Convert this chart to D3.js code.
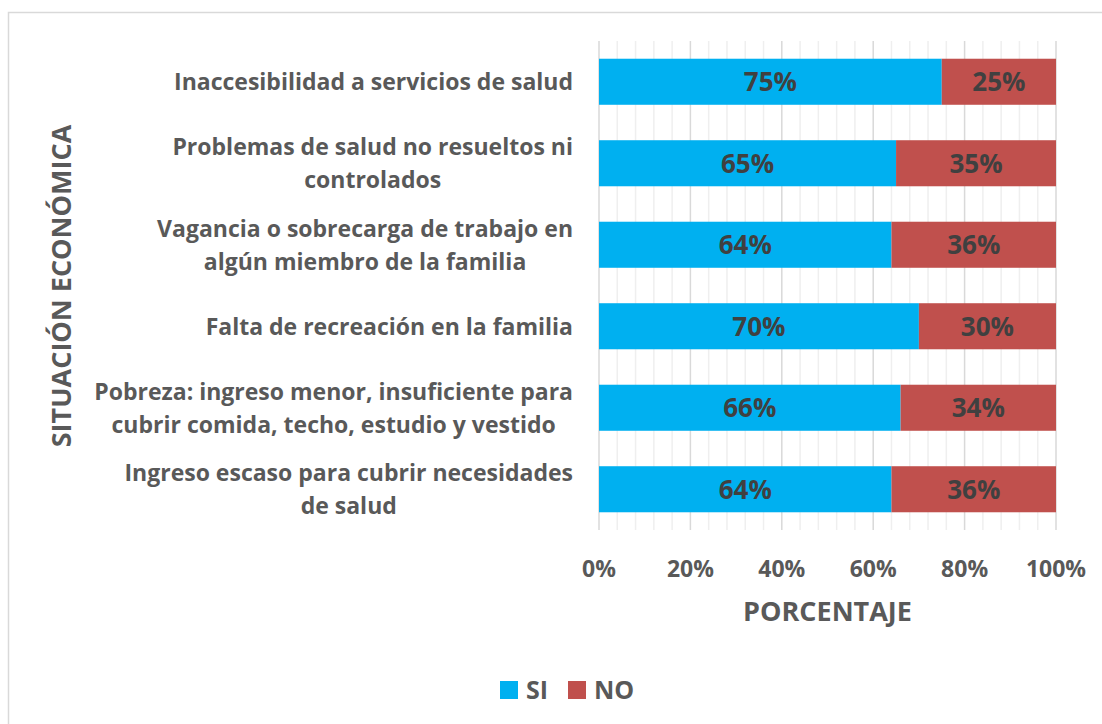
<!DOCTYPE html>
<html>
<head>
<meta charset="utf-8">
<script src="https://cdn.jsdelivr.net/npm/d3@7"></script>
<style>
  body { margin: 0; background: #fff; }
  text { font-family: "Open Sans", sans-serif; font-weight: bold; }
</style>
</head>
<body>
<svg id="svg1" width="1102" height="724"></svg>
<script>
// categories, top to bottom
var categories = [
    ["Inaccesibilidad a servicios de salud"],
    ["Problemas de salud no resueltos ni", "controlados"],
    ["Vagancia o sobrecarga de trabajo en", "algún miembro de la familia"],
    ["Falta de recreación en la familia"],
    ["Pobreza: ingreso menor, insuficiente para", "cubrir comida, techo, estudio y vestido"],
    ["Ingreso escaso para cubrir necesidades", "de salud"]
];
var siValues = [75, 65, 64, 70, 66, 64];
var noValues = [25, 35, 36, 30, 34, 36];
var seriesNames = ["SI", "NO"];
var seriesColors = ["#00B0F0", "#C0504D"];
var xTicks = [0, 20, 40, 60, 80, 100];

var svg = d3.select('#svg1');
var textColor = '#595959';

// chart border
svg.append('rect')
    .attr('x', 8.5).attr('y', 12.5)
    .attr('width', 1110).attr('height', 730)
    .attr('fill', 'none')
    .attr('stroke', '#d9d9d9')
    .attr('stroke-width', 1.5);

var plotLeft = 599, plotRight = 1056, plotTop = 41, plotBottom = 530;

var x = d3.scaleLinear().domain([0, 100]).range([plotLeft, plotRight]);
var y = d3.scaleBand().domain(d3.range(categories.length))
    .range([plotTop, plotBottom]).paddingInner(0.435).paddingOuter(0.2175);

// minor gridlines every 4%
svg.append('g').selectAll('line')
    .data(d3.range(0, 101, 4).filter(function (d) { return d % 20 != 0; }))
    .enter().append('line')
    .attr('x1', function (d) { return x(d); })
    .attr('x2', function (d) { return x(d); })
    .attr('y1', plotTop).attr('y2', plotBottom)
    .attr('stroke', '#efefef').attr('stroke-width', 1.5);

// major gridlines
svg.append('g').selectAll('line')
    .data(xTicks)
    .enter().append('line')
    .attr('x1', function (d) { return x(d); })
    .attr('x2', function (d) { return x(d); })
    .attr('y1', plotTop).attr('y2', plotBottom)
    .attr('stroke', '#d9d9d9').attr('stroke-width', 1.5);

// stacked bars
var stackData = siValues.map(function (v, i) { return { SI: v, NO: noValues[i], i: i }; });
var stack = d3.stack().keys(seriesNames)(stackData);

var layers = svg.append('g').selectAll('g')
    .data(stack)
    .enter().append('g')
    .attr('fill', function (d, k) { return seriesColors[k]; });

layers.selectAll('rect')
    .data(function (d) { return d; })
    .enter().append('rect')
    .attr('x', function (d) { return x(d[0]); })
    .attr('y', function (d) { return y(d.data.i); })
    .attr('width', function (d) { return x(d[1]) - x(d[0]); })
    .attr('height', y.bandwidth());

layers.selectAll('text')
    .data(function (d) { return d; })
    .enter().append('text')
    .attr('x', function (d) { return (x(d[0]) + x(d[1])) / 2; })
    .attr('y', function (d) { return y(d.data.i) + y.bandwidth() / 2; })
    .attr('dy', '0.36em')
    .attr('text-anchor', 'middle')
    .attr('fill', '#404040')
    .style('font-size', '26px')
    .text(function (d) { return (d[1] - d[0]) + '%'; });

// x tick labels
svg.append('g').selectAll('text')
    .data(xTicks)
    .enter().append('text')
    .attr('x', function (d) { return x(d); })
    .attr('y', 577)
    .attr('text-anchor', 'middle')
    .attr('fill', textColor)
    .style('font-size', '23px')
    .text(function (d) { return d + '%'; });

// category labels: centered block, right edge at 573
var labelRight = 573;
var lineH = 33;
categories.forEach(function (lines, i) {
    var g = svg.append('g');
    var t = g.append('text')
        .attr('text-anchor', 'middle')
        .attr('fill', textColor)
        .style('font-size', '23px');
    var cy = y(i) + y.bandwidth() / 2;
    var y0 = cy - (lines.length - 1) * lineH / 2;
    lines.forEach(function (l, j) {
        t.append('tspan').attr('x', 0).attr('y', y0 + j * lineH).attr('dy', '0.36em').text(l);
    });
    var w = 0;
    t.selectAll('tspan').each(function () { w = Math.max(w, this.getComputedTextLength()); });
    t.attr('transform', 'translate(' + (labelRight - w / 2) + ',0)');
});

// axis titles
svg.append('text')
    .attr('x', x(50)).attr('y', 621)
    .attr('text-anchor', 'middle')
    .attr('fill', textColor)
    .style('font-size', '27px')
    .text('PORCENTAJE');

svg.append('text')
    .attr('transform', 'translate(71,' + 286 + ') rotate(-90)')
    .attr('text-anchor', 'middle')
    .attr('fill', textColor)
    .style('font-size', '27px')
    .text('SITUACIÓN ECONÓMICA');

// legend
var legendX = [500, 568];
seriesNames.forEach(function (s, k) {
    svg.append('rect')
        .attr('x', legendX[k]).attr('y', 681)
        .attr('width', 18).attr('height', 18)
        .attr('fill', seriesColors[k]);
    svg.append('text')
        .attr('x', legendX[k] + 26).attr('y', 690)
        .attr('dy', '0.36em')
        .attr('fill', textColor)
        .style('font-size', '25px')
        .text(s);
});
</script>
</body>
</html>
